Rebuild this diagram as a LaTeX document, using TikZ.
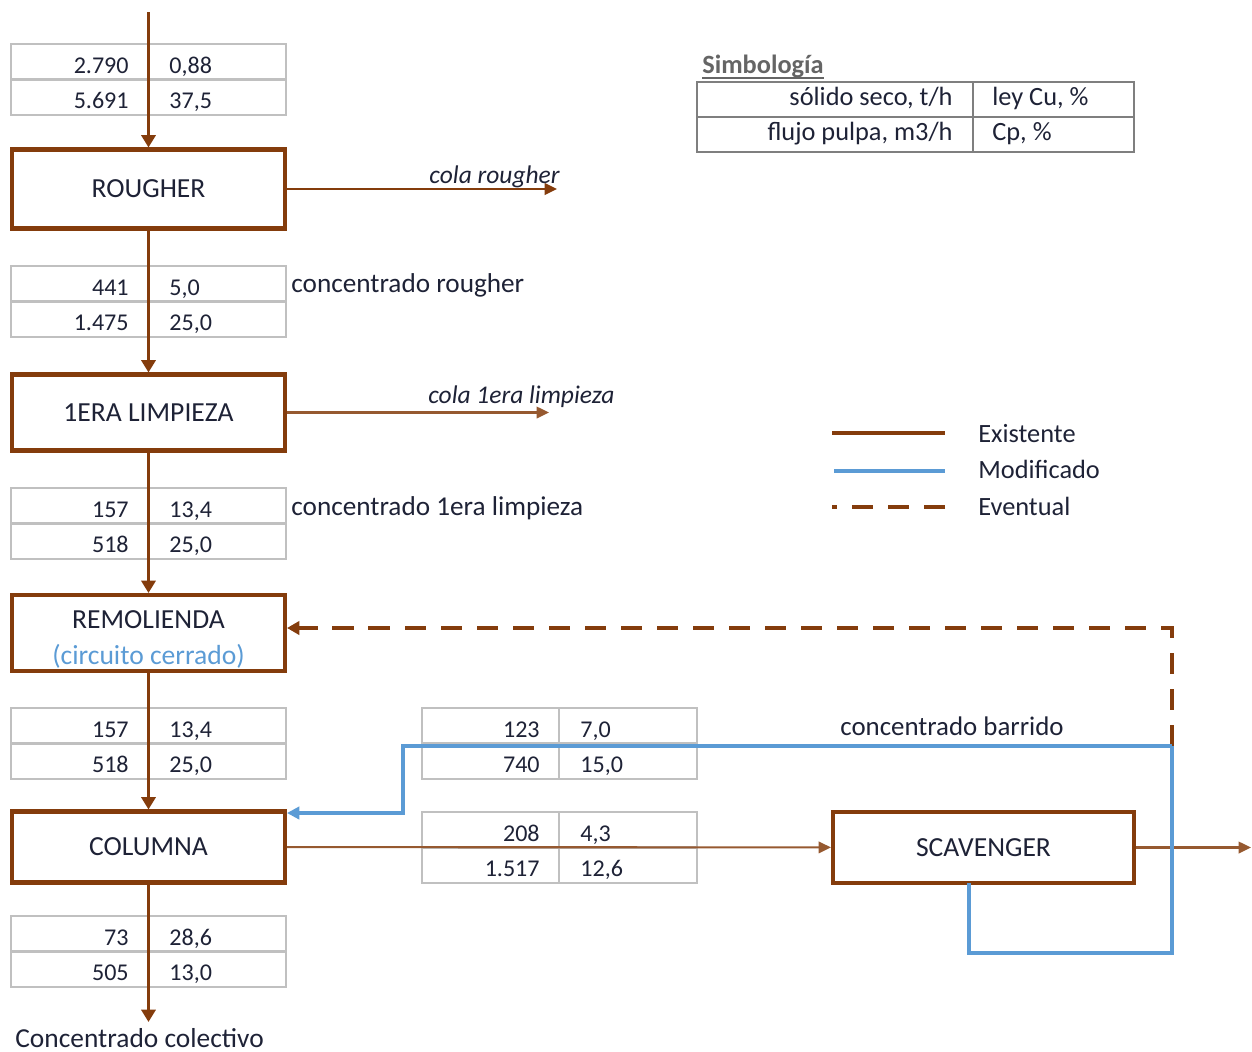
\documentclass[tikz,border=0pt]{standalone}
\usepackage{fontspec}
\setmainfont{Carlito}
\usetikzlibrary{arrows.meta}
\definecolor{flowbrown}{HTML}{843C0C}
\definecolor{modblue}{HTML}{5B9BD5}
\definecolor{tabgray}{HTML}{C0C0C0}
\definecolor{symgray}{HTML}{7F7F7F}
\definecolor{txtdark}{HTML}{1E2236}
\tikzset{
  every picture/.style={line join=miter},
  lbl/.style={inner sep=0pt, text=txtdark, font=\fontsize{15}{19.5}\selectfont},
  cell/.style={lbl, font=\fontsize{13.7}{16}\selectfont},
  cola/.style={lbl, font=\fontsize{14.5}{18}\selectfont\itshape},
  unit/.style={draw=flowbrown, line width=2.3pt, minimum width=5.46cm, inner sep=0pt,
    text=txtdark, font=\fontsize{15.7}{20.5}\selectfont},
  tabline/.style={draw=tabgray, line width=1.5pt},
  symline/.style={draw=symgray, line width=1.5pt},
  main/.style={flowbrown, line width=2pt, -{Triangle[length=7pt,width=8pt]}},
  tail/.style={flowbrown!85, line width=1.2pt, -{Triangle[length=7pt,width=6.5pt]}},
  eventual/.style={flowbrown, line width=2.3pt, dash pattern=on 12pt off 8.5pt},
  modif/.style={modblue, line width=1.9pt},
}
% tabla de flujo: nombre, x izq., y sup., cuatro valores
\newcommand{\flowtab}[7]{%
  \draw[tabline] (#2,#3) rectangle ++(275,71);
  \draw[tabline] (#2,#3+35.5) -- ++(275,0);
  \draw[tabline] (#2+137,#3) -- ++(0,71);
  \node[cell, anchor=base east] (#1-1) at (#2+118,#3+29.5) {#4};
  \node[cell, anchor=base west] (#1-2) at (#2+158,#3+29.5) {#5};
  \node[cell, anchor=base east] (#1-3) at (#2+118,#3+64) {#6};
  \node[cell, anchor=base west] (#1-4) at (#2+158,#3+64) {#7};
}
\begin{document}
\begin{tikzpicture}[x=0.02cm, y=-0.02cm]
\useasboundingbox (0,0) rectangle (1252,1052);
% tablas
\flowtab{tr}{11}{44}{2.790}{0,88}{5.691}{37,5}
\flowtab{tc}{11}{266}{441}{5,0}{1.475}{25,0}
\flowtab{tl}{11}{488}{157}{13,4}{518}{25,0}
\flowtab{tm}{11}{708}{157}{13,4}{518}{25,0}
\flowtab{tk}{11}{916}{73}{28,6}{505}{13,0}
\flowtab{tb}{422}{708}{123}{7,0}{740}{15,0}
\flowtab{ts}{422}{812}{208}{4,3}{1.517}{12,6}
% equipos
\node[unit, minimum height=1.58cm] (rough) at (148.5,189) {ROUGHER};
\node[unit, minimum height=1.52cm] (limp) at (148.5,412.5) {1ERA LIMPIEZA};
\node[unit, minimum height=1.52cm, align=center] (remol) at (148.5,633)
  {\rule{0pt}{17pt}REMOLIENDA\\\textcolor{modblue}{(circuito cerrado)}};
\node[unit, minimum height=1.42cm] (colum) at (148.5,847) {COLUMNA};
\node[unit, minimum height=1.42cm, minimum width=6.02cm] (scav) at (983.5,847.5) {SCAVENGER};
% linea principal
\coordinate (feed) at (148.5,12);
\coordinate (prod) at (148.5,1022);
\draw[main] (feed) -- (rough);
\draw[main] (rough) -- (limp);
\draw[main] (limp) -- (remol);
\draw[main] (remol) -- (colum);
\draw[main] (colum) -- (prod);
\node[lbl, anchor=base west, font=\fontsize{15.6}{19}\selectfont] (colect) at (15,1047) {Concentrado colectivo};
% colas
\coordinate (crout) at (557,189);
\draw[tail, flowbrown, line width=1.4pt] (rough) -- (crout);
\node[cola, anchor=base east] (crlbl) at (560,183) {cola rougher};
\coordinate (clout) at (549,412.5);
\draw[tail] (limp) -- (clout);
\node[cola, anchor=base west] (cllbl) at (428,403) {cola 1era limpieza};
\node[lbl, anchor=base west, font=\fontsize{15.5}{19}\selectfont] (conr) at (291,292) {concentrado rougher};
\node[lbl, anchor=base west, font=\fontsize{15.5}{19}\selectfont] (conl) at (291,515) {concentrado 1era limpieza};
% columna - scavenger
\draw[tail] (colum) -- (scav);
\coordinate (scout) at (1251,847.5);
\draw[tail] (scav) -- (scout);
% retorno eventual y concentrado barrido
\coordinate (jn) at (1172,746);
\coordinate (dtop) at (1172,628);
\draw[eventual, -{Triangle[length=7pt,width=7.5pt]}] (jn) -- (dtop) -- (dtop -| remol.east);
\coordinate (sbot) at (969,883);
\coordinate (lp) at (1172,953);
\draw[modif, line width=2.8pt] (sbot) |- (lp) -- (jn);
\coordinate (bend) at (403,746);
\draw[modif, -{Triangle[length=7pt,width=7pt]}] (jn) -- (bend) |- ([yshift=-2pt]colum.north east);
\node[lbl, anchor=base west, font=\fontsize{15.3}{19}\selectfont] (barr) at (840,735) {concentrado barrido};
% simbologia
\node[lbl, anchor=base west, font=\fontsize{15}{18}\selectfont\bfseries, text=symgray!80!black] (simb) at (702,73) {Simbología};
\draw[symgray!80!black, line width=1.2pt] ([yshift=-2.8pt]simb.base west) -- ([yshift=-2.8pt]simb.base east);
\draw[symline] (697,82) rectangle (1134,152);
\draw[symline] (697,117) -- (1134,117);
\draw[symline] (973,82) -- (973,152);
\node[lbl, anchor=base east] (s1) at (953,105) {sólido seco, t/h};
\node[lbl, anchor=base west] (s2) at (992,105) {ley Cu, \%};
\node[lbl, anchor=base east] (s3) at (953,140) {flujo pulpa, m3/h};
\node[lbl, anchor=base west] (s4) at (992,140) {Cp, \%};
% leyenda
\coordinate (lg1) at (832,433);
\coordinate (lg2) at (834,471);
\coordinate (lg3) at (945,507);
\draw[flowbrown, line width=2.3pt] (lg1) -- ++(113,0);
\draw[modblue, line width=2.8pt] (lg2) -- ++(111,0);
\draw[eventual] (lg3) -- ++(-113,0);
\node[lbl, anchor=base west] (lgex) at (978,442) {Existente};
\node[lbl, anchor=base west] (lgmo) at (978,478) {Modificado};
\node[lbl, anchor=base west] (lgev) at (978,515) {Eventual};
\end{tikzpicture}
\end{document}
